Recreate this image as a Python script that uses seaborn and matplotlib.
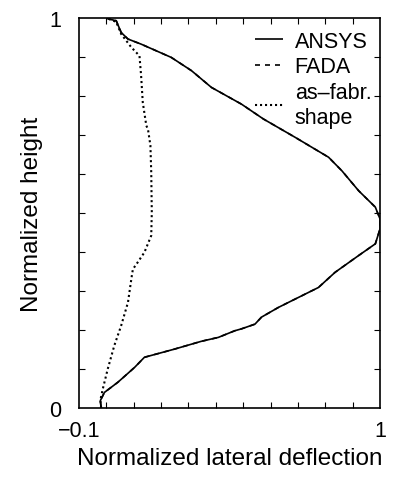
import matplotlib
matplotlib.use("Agg")
import matplotlib.pyplot as plt
import seaborn as sns
import pandas as pd
import numpy as np

# ANSYS / FADA deflected shape (normalized lateral deflection, normalized height)
ansys_x = [-0.019, -0.022, -0.007, 0.042, 0.103, 0.139, 0.249, 0.347, 0.409, 0.469,
           0.494, 0.543, 0.567, 0.629, 0.689, 0.775, 0.836, 0.922, 0.983, 1.0,
           1.0, 0.983, 0.922, 0.861, 0.812, 0.690, 0.574, 0.494, 0.384, 0.311,
           0.237, 0.127, 0.079, 0.054, 0.036, 0.011, 0.0]
ansys_y = [0.0, 0.019, 0.040, 0.066, 0.104, 0.130, 0.151, 0.171, 0.181, 0.198,
           0.203, 0.215, 0.233, 0.258, 0.279, 0.309, 0.348, 0.391, 0.421, 0.459,
           0.485, 0.515, 0.557, 0.608, 0.643, 0.694, 0.741, 0.779, 0.822, 0.865,
           0.899, 0.933, 0.946, 0.963, 0.993, 0.997, 1.0]
fada_x = ansys_x
fada_y = ansys_y

# as-fabricated shape
fabr_x = [-0.019, -0.022, -0.013, 0.005, 0.029, 0.054, 0.079, 0.093, 0.097, 0.115,
          0.139, 0.164, 0.166, 0.164, 0.161, 0.152, 0.146, 0.133, 0.127, 0.121,
          0.091, 0.054, 0.036, 0.011, 0.0]
fabr_y = [0.0, 0.020, 0.049, 0.100, 0.160, 0.211, 0.271, 0.339, 0.356, 0.374,
          0.399, 0.442, 0.502, 0.604, 0.673, 0.715, 0.724, 0.784, 0.852, 0.903,
          0.925, 0.959, 0.990, 0.997, 1.0]

labels = ["ANSYS", "FADA", "as\u2013fabr.\nshape"]
xtick_labels = ["\u22120.1", "1"]
ytick_labels = ["0", "1"]

frames = []
for lab, xs, ys in zip(labels, [ansys_x, fada_x, fabr_x], [ansys_y, fada_y, fabr_y]):
    frames.append(pd.DataFrame({"x": xs, "y": ys, "series": lab}))
df = pd.concat(frames, ignore_index=True)

sns.set_theme(style="ticks")
plt.rcParams['font.family'] = ['Liberation Sans', 'DejaVu Sans']

fig = plt.figure(figsize=(4.04, 4.85), dpi=100)
ax = fig.add_axes([79/404, 1 - 409/485, 301/404, 390/485])

styles = {"ANSYS": (0, ()), "FADA": (0, (3, 3)), labels[2]: (0, (1, 1.4))}
widths = {"ANSYS": 1.2, "FADA": 1.2, labels[2]: 1.5}
for lab in labels:
    sub = df[df["series"] == lab]
    sns.lineplot(data=sub, x="x", y="y", sort=False, estimator=None, ax=ax,
                 color="black", linewidth=widths[lab], linestyle=styles[lab], label=lab)

ax.set_xlim(-0.1, 1.0)
ax.set_ylim(0, 1.0)
ax.set_xticks([-0.1, 1.0])
ax.set_xticklabels(xtick_labels)
ax.set_yticks([0, 1])
ax.set_yticklabels(ytick_labels)
ax.set_xticks(np.arange(0, 1.0, 0.1), minor=True)
ax.set_yticks(np.arange(0.1, 1.0, 0.1), minor=True)
ax.tick_params(which="both", direction="in", top=True, right=True, color="black")
ax.tick_params(which="major", length=0, labelsize=15.5, labelcolor="black")
ax.tick_params(axis="x", which="major", pad=9)
ax.tick_params(axis="y", which="major", pad=13)
ax.tick_params(which="minor", length=4, width=0.8)
for s in ax.spines.values():
    s.set_color("black")
    s.set_linewidth(1.2)

ax.set_xlabel("Normalized lateral deflection", fontsize=17.5, color="black", labelpad=4)
ax.set_ylabel("Normalized height", fontsize=17.5, color="black", labelpad=4)

leg = ax.legend(loc="upper right", frameon=False, fontsize=15.5, handlelength=1.3,
                handletextpad=0.55, labelspacing=0.22, borderaxespad=0.0,
                bbox_to_anchor=(1.0, 0.99))
for t in leg.get_texts():
    t.set_color("black")
    t.set_linespacing(1.25)

fig.savefig("out.png", dpi=100, facecolor="white")
